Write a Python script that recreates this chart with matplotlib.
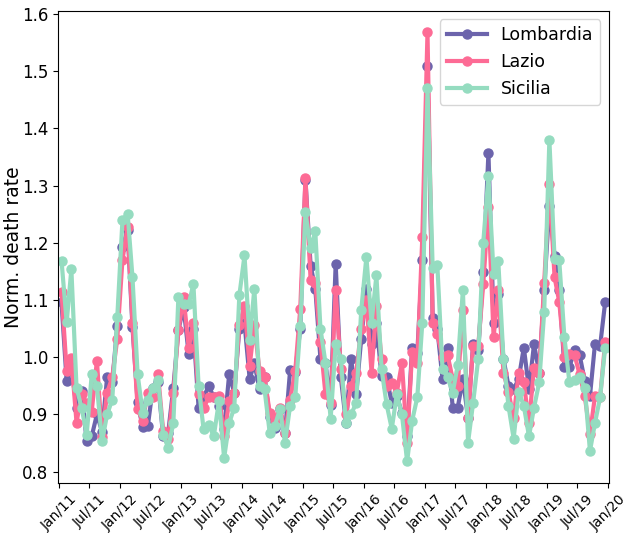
import pandas as pd
import numpy as np
import matplotlib
matplotlib.use('Agg')
import matplotlib.pyplot as plt
import matplotlib.dates as mdates

# Monthly normalised death rates, Jan 2011 - Dec 2019
lombardia = [1.096, 0.958, 0.985, 0.912, 0.941, 0.853, 0.862, 0.900, 0.870, 0.965, 0.956, 1.055,
             1.193, 1.222, 1.053, 0.921, 0.878, 0.880, 0.947, 0.956, 0.862, 0.868, 0.947, 1.047,
             1.088, 1.005, 1.050, 0.912, 0.930, 0.950, 0.930, 0.915, 0.874, 0.970, 0.938, 1.050,
             1.060, 0.962, 0.990, 0.944, 0.965, 0.895, 0.877, 0.909, 0.868, 0.977, 0.975, 1.050,
             1.310, 1.160, 1.120, 0.997, 0.990, 0.917, 1.163, 0.965, 0.885, 0.997, 0.935, 1.032,
             1.120, 1.023, 1.060, 0.967, 0.965, 0.920, 0.932, 0.903, 0.862, 1.017, 1.008, 1.170,
             1.509, 1.068, 1.050, 0.962, 1.017, 0.912, 0.912, 0.962, 0.894, 1.023, 1.012, 1.149,
             1.357, 1.060, 1.110, 0.997, 0.950, 0.944, 0.962, 1.017, 0.944, 1.023, 0.973, 1.118,
             1.265, 1.177, 1.118, 0.983, 0.983, 1.012, 1.004, 0.959, 0.932, 1.023, 1.020, 1.096]

lazio = [1.114, 0.976, 0.998, 0.886, 0.935, 0.920, 0.905, 0.994, 0.860, 0.938, 0.965, 1.032,
         1.170, 1.228, 1.060, 0.910, 0.888, 0.938, 0.930, 0.971, 0.871, 0.858, 0.937, 1.047,
         1.105, 1.017, 1.060, 0.935, 0.912, 0.930, 0.930, 0.933, 0.862, 0.923, 0.938, 1.056,
         1.090, 0.985, 1.056, 0.976, 0.965, 0.903, 0.890, 0.912, 0.868, 0.926, 0.976, 1.085,
         1.313, 1.135, 1.130, 1.026, 0.935, 0.920, 1.118, 0.980, 0.900, 0.950, 0.973, 1.050,
         1.100, 0.973, 1.090, 0.997, 0.950, 0.955, 0.938, 0.990, 0.851, 1.010, 0.990, 1.210,
         1.568, 1.060, 1.040, 1.000, 1.004, 0.962, 0.950, 1.082, 0.894, 1.020, 1.020, 1.128,
         1.262, 1.035, 1.118, 0.973, 0.940, 0.894, 0.973, 0.956, 0.885, 0.982, 0.973, 1.130,
         1.302, 1.140, 1.097, 1.000, 1.006, 1.004, 0.970, 0.932, 0.866, 0.932, 0.930, 1.026]

sicilia = [1.169, 1.061, 1.154, 0.947, 0.912, 0.865, 0.970, 0.950, 0.853, 0.900, 0.926, 1.070,
           1.239, 1.251, 1.140, 0.970, 0.903, 0.926, 0.947, 0.961, 0.865, 0.842, 0.885, 1.105,
           1.093, 1.093, 1.128, 0.950, 0.874, 0.882, 0.862, 0.923, 0.824, 0.885, 0.912, 1.108,
           1.178, 1.030, 1.120, 0.950, 0.944, 0.868, 0.880, 0.909, 0.851, 0.915, 0.930, 1.054,
           1.253, 1.190, 1.220, 1.050, 0.990, 0.893, 1.023, 0.997, 0.885, 0.900, 0.920, 1.082,
           1.175, 1.060, 1.143, 0.979, 0.918, 0.875, 0.935, 0.900, 0.818, 0.889, 0.930, 1.060,
           1.470, 1.156, 1.161, 0.979, 0.965, 0.938, 0.986, 1.118, 0.851, 0.920, 0.997, 1.200,
           1.317, 1.145, 1.168, 0.997, 0.915, 0.858, 0.940, 0.915, 0.862, 0.912, 0.956, 1.079,
           1.380, 1.172, 1.170, 1.035, 0.956, 0.961, 0.965, 0.947, 0.836, 0.885, 0.930, 1.017]

dates = pd.date_range('2011-01-01', periods=len(lombardia), freq='MS') + pd.Timedelta(days=14)

series = [('Lombardia', lombardia, '#6c64ac'),
          ('Lazio', lazio, '#fd6b95'),
          ('Sicilia', sicilia, '#95dcc0')]

fig, ax = plt.subplots(figsize=(6.27, 5.33), dpi=100)
fig.subplots_adjust(left=0.0925, right=0.971, top=0.98, bottom=0.094)

for name, vals, col in series:
    ax.plot(dates, vals, marker='o', color=col, linewidth=3, markersize=6.5, label=name)

ax.xaxis.set_major_locator(mdates.MonthLocator(bymonth=[1, 7]))
ax.xaxis.set_major_formatter(mdates.DateFormatter('%b/%y'))
ax.set_xlim(pd.Timestamp('2010-12-25'), pd.Timestamp('2020-01-06'))
plt.setp(ax.get_xticklabels(), rotation=45, fontsize=10)
ax.tick_params(axis='y', labelsize=12)
ax.set_ylabel('Norm. death rate', fontsize=13.5)
ax.yaxis.set_label_coords(-0.064, 0.5)
ax.legend(loc='upper right', fontsize=12.5, handlelength=2.3)

fig.savefig('out.png', dpi=100)
